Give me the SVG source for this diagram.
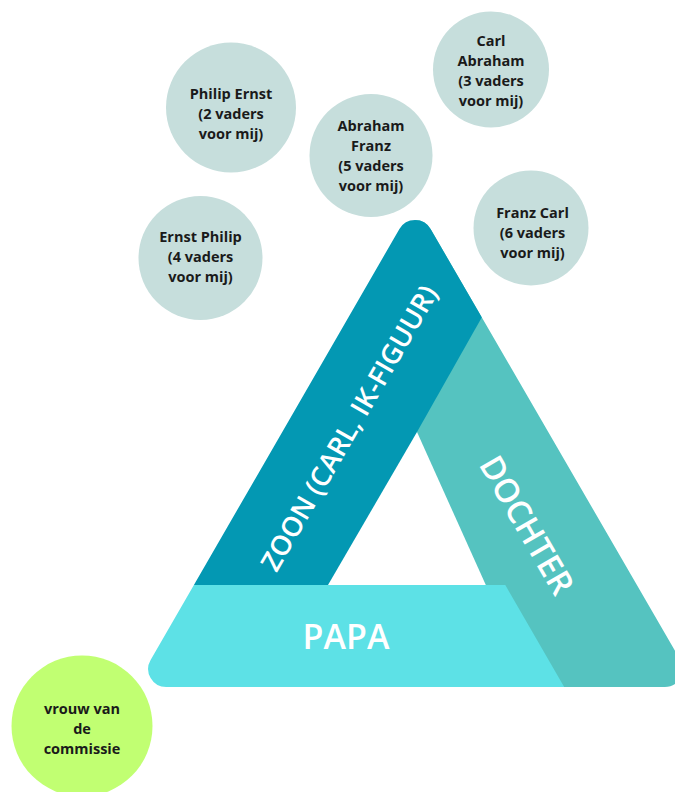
<svg xmlns="http://www.w3.org/2000/svg" width="675" height="792" viewBox="0 0 675 792">
<style>
.c{fill:#C6DEDC}
.ct{font-family:"Open Sans","Liberation Sans",sans-serif;font-weight:700;font-size:14.5px;fill:#1a1a1a;text-anchor:middle}
.bt{font-family:"Open Sans","Liberation Sans",sans-serif;font-weight:600;fill:#ffffff;text-anchor:middle}
</style>
<defs>
<clipPath id="tri">
<path d="M399.4,229 A18,18 0 0 1 430.6,229 L680.4,660 A18,18 0 0 1 664.8,687 L166.2,687 A18,18 0 0 1 150.6,660 Z"/>
</clipPath>
</defs>
<rect width="675" height="792" fill="#ffffff"/>

<g id="triangle" clip-path="url(#tri)">
<g id="dochter">
<polygon points="415,150 760,750 560,750 417,432" fill="#55C3C0"/>
</g>
<g id="zoon">
<polygon points="415,150 482,317 417,432 328,585 100,585 100,150" fill="#0398B3"/>
</g>
<g id="papa">
<polygon points="100,585 505.3,585 564.2,687 575,700 100,700" fill="#5DE1E6"/>
</g>
</g>
<text class="bt" font-size="27.5" transform="translate(349,428) rotate(-60)" x="0" y="9.8">ZOON (CARL, IK-FIGUUR)</text>
<text class="bt" font-size="33" transform="translate(527,525) rotate(60)" x="0" y="11.8">DOCHTER</text>
<text class="bt" font-size="34" font-weight="700" x="346" y="648.5">PAPA</text>

<g id="philip-ernst">
<circle class="c" cx="231" cy="107.5" r="65"/>
<text class="ct" x="231" y="99">Philip Ernst</text>
<text class="ct" x="231" y="119">(2 vaders</text>
<text class="ct" x="231" y="139">voor mij)</text>
</g>
<g id="abraham-franz">
<circle class="c" cx="371" cy="155.5" r="61.5"/>
<text class="ct" x="371" y="130.5">Abraham</text>
<text class="ct" x="371" y="150.5">Franz</text>
<text class="ct" x="371" y="170.5">(5 vaders</text>
<text class="ct" x="371" y="190.5">voor mij)</text>
</g>
<g id="carl-abraham">
<circle class="c" cx="491" cy="69.5" r="58"/>
<text class="ct" x="491" y="45.5">Carl</text>
<text class="ct" x="491" y="65.5">Abraham</text>
<text class="ct" x="491" y="85.5">(3 vaders</text>
<text class="ct" x="491" y="105.5">voor mij)</text>
</g>
<g id="franz-carl">
<circle class="c" cx="531" cy="228" r="57.5"/>
<text class="ct" x="532.5" y="218">Franz Carl</text>
<text class="ct" x="532.5" y="238">(6 vaders</text>
<text class="ct" x="532.5" y="258">voor mij)</text>
</g>
<g id="ernst-philip">
<circle class="c" cx="200.5" cy="258" r="62"/>
<text class="ct" x="200.5" y="241.5">Ernst Philip</text>
<text class="ct" x="200.5" y="261.5">(4 vaders</text>
<text class="ct" x="200.5" y="282">voor mij)</text>
</g>
<g id="vrouw-van-de-commissie">
<circle cx="82" cy="726" r="70.5" fill="#C1FF72"/>
<text class="ct" x="82" y="713.5">vrouw van</text>
<text class="ct" x="82" y="733.5">de</text>
<text class="ct" x="82" y="753.5">commissie</text>
</g>
<g id="connectors"/>
</svg>
